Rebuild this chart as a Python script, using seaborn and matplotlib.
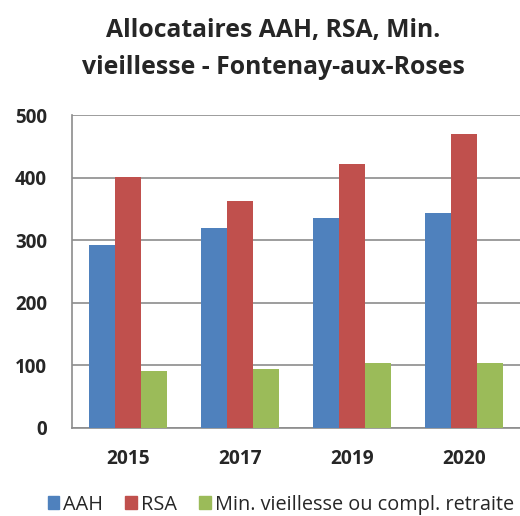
import pandas as pd
import matplotlib.pyplot as plt
import seaborn as sns

# data
years = ['2015', '2017', '2019', '2020']
aah = [293, 319, 335, 344]
rsa = [401, 363, 421, 470]
min_vieil = [91, 94, 104, 104]
series = ['AAH', 'RSA', 'Min. vieillesse ou compl. retraite']
colors = ['#4F81BD', '#C0504D', '#9BBB59']

df = pd.DataFrame({
    'annee': years * 3,
    'serie': [series[0]] * 4 + [series[1]] * 4 + [series[2]] * 4,
    'valeur': aah + rsa + min_vieil,
})

sns.set_style('white')
plt.rcParams['font.family'] = ['Open Sans', 'DejaVu Sans']

fig = plt.figure(figsize=(5.2, 5.16), dpi=100)
ax = fig.add_axes([0.1385, 0.171, 0.8615, 0.606])

sns.barplot(data=df, x='annee', y='valeur', hue='serie', palette=colors,
            width=0.69, saturation=1, linewidth=0, ax=ax, zorder=3)

ax.set_ylim(0, 500)
ax.set_xlim(-0.5, 3.5)
ax.set_yticks([0, 100, 200, 300, 400, 500])
ax.yaxis.grid(True, color='#8c8c8c', linewidth=1.2, zorder=0)
ax.set_xlabel('')
ax.set_ylabel('')

for s in ['top', 'right']:
    ax.spines[s].set_visible(False)
for s in ['left', 'bottom']:
    ax.spines[s].set_color('#8c8c8c')
    ax.spines[s].set_linewidth(1.2)

# category separators as ticks, labels centered
ax.set_xticks([-0.5, 0.5, 1.5, 2.5, 3.5], minor=True)
ax.tick_params(axis='x', which='minor', length=5, color='#8c8c8c', width=1.2, direction='out')
ax.tick_params(axis='x', which='major', length=0, pad=15, labelsize=13.8)
ax.tick_params(axis='y', which='major', length=6, color='#8c8c8c', width=1.2,
               direction='out', pad=12, labelsize=13.5)
for lbl in ax.get_xticklabels() + ax.get_yticklabels():
    lbl.set_fontweight('bold')

fig.text(0.525, 1 - 31 / 516, 'Allocataires AAH, RSA, Min.',
         ha='center', va='center', fontsize=17.8, fontweight='bold')
fig.text(0.525, 1 - 68 / 516, 'vieillesse - Fontenay-aux-Roses',
         ha='center', va='center', fontsize=17.8, fontweight='bold')

ax.legend_.remove()
handles = [plt.Rectangle((0, 0), 1, 1, color=c) for c in colors]
fig.legend(handles, series, loc='center', bbox_to_anchor=(0.54, 0.022), ncol=3,
           frameon=False, fontsize=14.3, handlelength=0.6, handleheight=0.6,
           handletextpad=0.2, columnspacing=1.1, borderpad=0, borderaxespad=0)

fig.savefig('out.png', dpi=100)
